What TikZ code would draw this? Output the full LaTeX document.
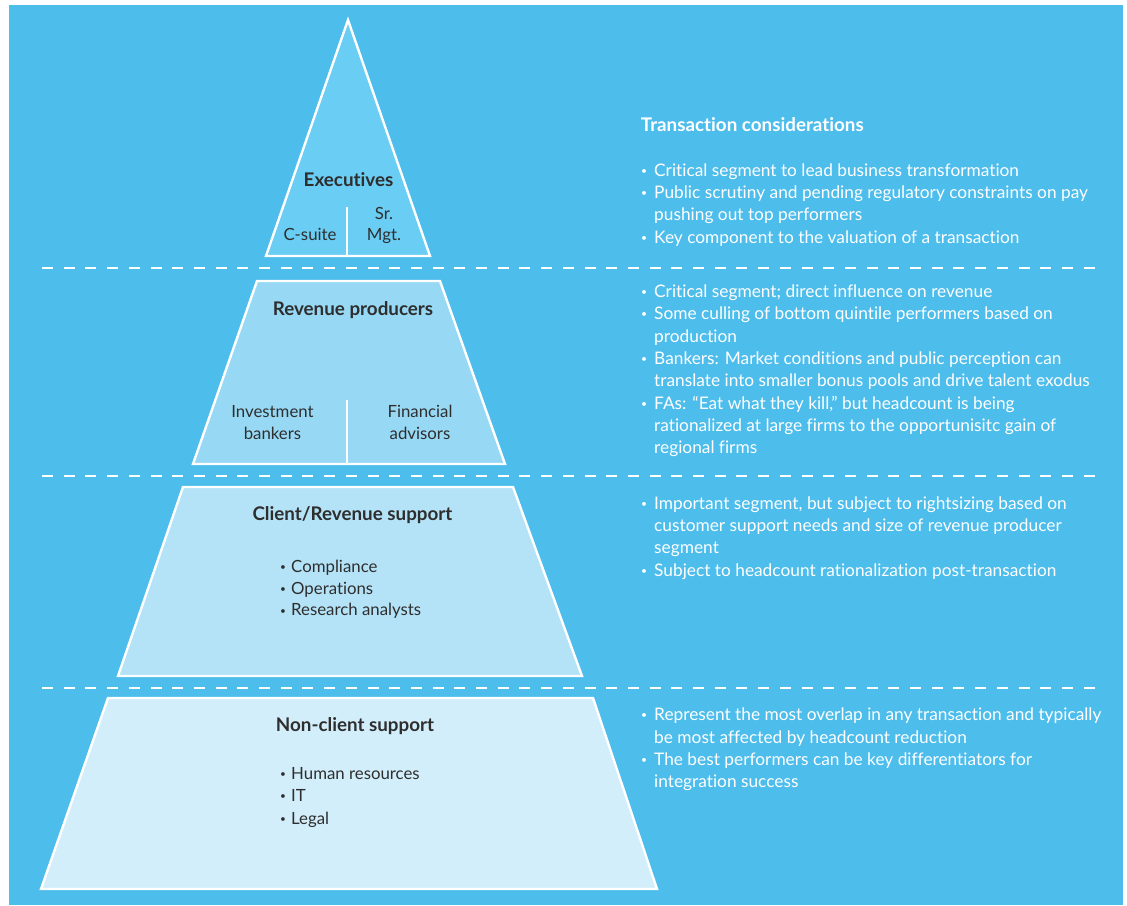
\documentclass[tikz,border=0pt]{standalone}
\usepackage{fontspec}
\setmainfont{Lato}[Ligatures=NoCommon]
\usepackage{tikz}
\usetikzlibrary{positioning}
\definecolor{bgblue}{HTML}{4DBDEC}
\definecolor{tierA}{HTML}{6ACDF3}
\definecolor{tierB}{HTML}{97D9F5}
\definecolor{tierC}{HTML}{B4E3F7}
\definecolor{tierD}{HTML}{D2EEFA}
\definecolor{ink}{HTML}{2E2E2E}
\tikzset{
  tier/.style={draw=white,line width=2.4pt,fill=#1},
  split/.style={white,line width=2.2pt},
  sep/.style={white,line width=2.7pt,dash pattern=on 11pt off 10.7pt},
  head/.style={anchor=base,inner sep=0pt,text=ink,font=\fontsize{18.8}{22}\selectfont\bfseries},
  grp/.style={anchor=base,inner sep=0pt,text=ink,font=\fontsize{16.8}{21.6}\selectfont},
  note/.style={anchor=base west,inner sep=0pt,text=white,font=\fontsize{17.3}{22.35}\selectfont},
}
\newcommand{\bdot}[1][13pt]{\makebox[#1][l]{\raisebox{0.22ex}{\scalebox{0.6}{\textbullet}}}}
\newcommand{\tierstack}[1]{\begin{tabular}[t]{@{}c@{}}#1\end{tabular}}
\newcommand{\notelist}[1]{\begin{tabular}[t]{@{}l@{}l@{}}#1\end{tabular}}

\begin{document}
\begin{tikzpicture}[x=1pt,y=-1pt]
 \useasboundingbox[fill=white] (0,0) rectangle (1127,905);
 \fill[bgblue] (9,5) rectangle (1123,905);
 % ---- pyramid tiers
 \draw[tier=tierA] (348,20)--(430,256)--(266,256)--cycle;
 \draw[tier=tierB] (257,281)--(440,281)--(505,464)--(193,464)--cycle;
 \draw[tier=tierC] (183,487)--(513,487)--(582,676)--(118,676)--cycle;
 \draw[tier=tierD] (108,698)--(593,698)--(657,889)--(41,889)--cycle;
 \draw[split] (347,207)--(347,256);
 \draw[split] (347,400)--(347,464);
 % ---- separators
 \foreach \y in {268,476,688}{\draw[sep] (42,\y)--(1104,\y);}
 % ---- executives
 \node[head] (exec) at (348.5,186.7){Executives};
 \node[grp] (csuite) at (310,240.7){C-suite};
 \node[grp] (srmgt) at (384,219){\tierstack{Sr.\\Mgt.}};
 % ---- revenue producers
 \node[head] (rev) at (353,315.7){Revenue producers};
 \node[grp] (ib) at (272.5,417.7){\tierstack{Investment\\bankers}};
 \node[grp] (fa) at (420,417.7){\tierstack{Financial\\advisors}};
 % ---- client/revenue support
 \node[head] (crs) at (352.5,520.7){Client/Revenue support};
 \node[grp,anchor=base west] (crslist) at (280,572.7){\notelist{\bdot[11pt]&Compliance\\\bdot[11pt]&Operations\\\bdot[11pt]&Research analysts}};
 % ---- non-client support
 \node[head] (ncs) at (355,731){Non-client support};
 \node[grp,anchor=base west,font=\fontsize{16.8}{22.5}\selectfont] (ncslist) at (280,779){\notelist{\bdot[11pt]&Human resources\\\bdot[11pt]&IT\\\bdot[11pt]&Legal}};
 % ---- transaction considerations
 \node[note,font=\fontsize{18.8}{22}\selectfont\bfseries] (tc) at (640.7,131){Transaction considerations};
 \node[note] (tcexec) at (641,176){\notelist{
  \bdot&Critical segment to lead business transformation\\
  \bdot&Public scrutiny and pending regulatory constraints on pay\\
  &pushing out top performers\\
  \bdot&Key component to the valuation of a transaction}};
 \node[note] (tcrev) at (641,297.3){\notelist{
  \bdot&Critical segment; direct influence on revenue\\
  \bdot&Some culling of bottom quintile performers based on\\
  &production\\
  \bdot&Bankers: Market conditions and public perception can\\
  &translate into smaller bonus pools and drive talent exodus\\
  \bdot&FAs: “Eat what they kill,” but headcount is being\\
  &rationalized at large firms to the opportunisitc gain of\\
  &regional firms}};
 \node[note] (tccrs) at (641,509){\notelist{
  \bdot&Important segment, but subject to rightsizing based on\\
  &customer support needs and size of revenue producer\\
  &segment\\
  \bdot&Subject to headcount rationalization post-transaction}};
 \node[note] (tcncs) at (641,720.7){\notelist{
  \bdot&Represent the most overlap in any transaction and typically\\
  &be most affected by headcount reduction\\
  \bdot&The best performers can be key differentiators for\\
  &integration success}};
\end{tikzpicture}
\end{document}
